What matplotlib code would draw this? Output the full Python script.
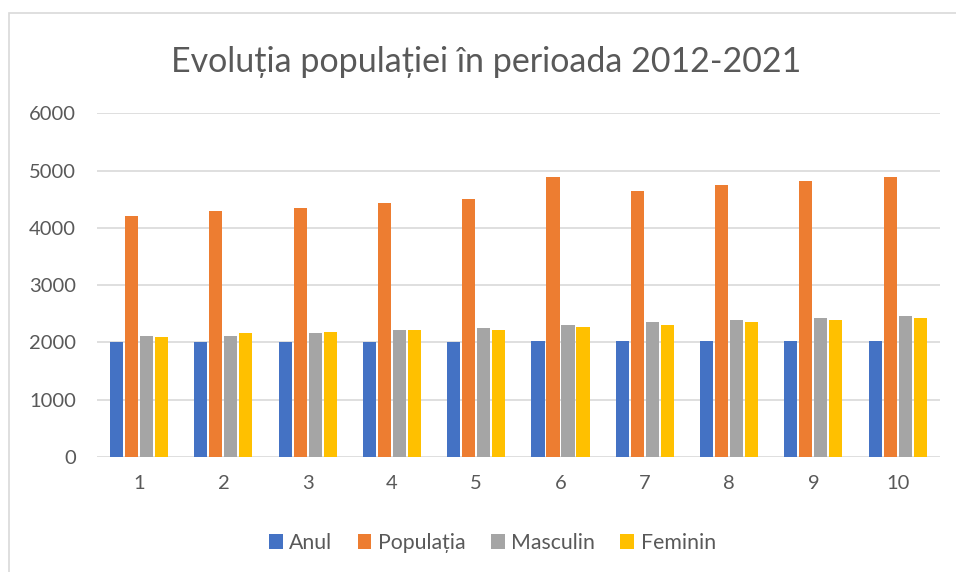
import numpy as np
import matplotlib
matplotlib.use("Agg")
import matplotlib.pyplot as plt
from matplotlib.patches import Rectangle

# Date
categorii = [1, 2, 3, 4, 5, 6, 7, 8, 9, 10]
anul = [2012, 2013, 2014, 2015, 2016, 2017, 2018, 2019, 2020, 2021]
populatia = [4200, 4300, 4355, 4425, 4495, 4880, 4650, 4740, 4825, 4895]
masculin = [2105, 2120, 2157, 2210, 2245, 2296, 2348, 2383, 2418, 2453]
feminin = [2088, 2157, 2174, 2210, 2210, 2261, 2296, 2348, 2383, 2418]

serii = [("Anul", anul, "#4472C4"),
         ("Populația", populatia, "#ED7D31"),
         ("Masculin", masculin, "#A5A5A5"),
         ("Feminin", feminin, "#FFC000")]

plt.rcParams['font.family'] = ['Lato', 'DejaVu Sans']
text_color = "#595959"
grid_color = "#d9d9d9"

fig = plt.figure(figsize=(9.56, 5.72), dpi=100)
ax = fig.add_axes([0.1015, 0.201, 0.8815, 0.601])

# chenarul graficului (doar stanga si sus se vad)
fig.patches.append(Rectangle((9 / 956, -0.05), 1.1, 1.05 - 13 / 572,
                             transform=fig.transFigure, fill=False,
                             edgecolor=grid_color, linewidth=1.2))

x = np.arange(len(categorii))
latime = 0.155
pas = 0.178
for i, (nume, valori, culoare) in enumerate(serii):
    offset = (i - 1.5) * pas
    ax.bar(x + offset, valori, width=latime, color=culoare, label=nume, zorder=3)

ax.set_xlim(-0.5, len(categorii) - 0.5)
ax.set_ylim(0, 6000)
ax.set_yticks(range(0, 6001, 1000))
ax.set_xticks(x)
ax.set_xticklabels([str(c) for c in categorii])
ax.tick_params(axis='both', length=0, labelsize=14.5, colors=text_color)
ax.tick_params(axis='y', pad=15)
ax.tick_params(axis='x', pad=13)
ax.grid(axis='y', color=grid_color, linewidth=1.2, zorder=0)
for s in ax.spines.values():
    s.set_visible(False)

fig.text(486 / 956, 1 - 62 / 572, "Evoluția populației în perioada 2012-2021",
         ha='center', va='center', fontsize=24.5, color=text_color)

ax.legend(loc='center', bbox_to_anchor=(0.469, -0.25), ncol=4, frameon=False,
          fontsize=15.3, labelcolor=text_color, handlelength=0.65,
          handleheight=0.65, handletextpad=0.3, columnspacing=1.2)

fig.savefig("out.png", dpi=100)
